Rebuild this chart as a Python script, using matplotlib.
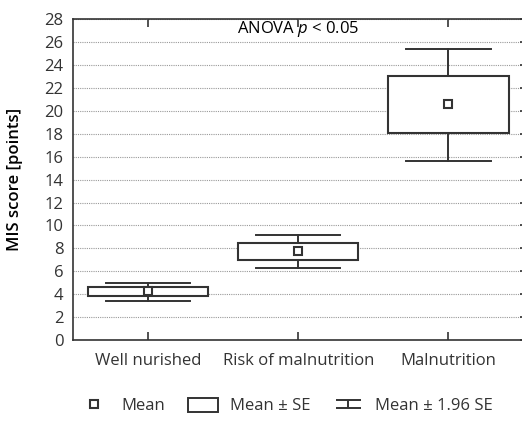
import matplotlib
matplotlib.use('Agg')
from matplotlib import pyplot as plt
from matplotlib.lines import Line2D
from matplotlib.patches import Rectangle
from matplotlib.path import Path

groups = ['Well nurished', 'Risk of malnutrition', 'Malnutrition']
means = [4.26, 7.73, 20.59]
se_low = [3.85, 7.0, 18.05]
se_high = [4.67, 8.46, 23.07]
ci_low = [3.41, 6.33, 15.66]
ci_high = [4.99, 9.19, 25.37]

plt.rcParams['font.family'] = ['Open Sans', 'DejaVu Sans']
plt.rcParams['mathtext.fontset'] = 'custom'
plt.rcParams['mathtext.it'] = 'Open Sans:italic'
dark = '#333333'

fig = plt.figure(figsize=(5.22, 4.21), dpi=100)
ax = fig.add_axes([0.14, 0.192, 0.863, 0.763])

stats = []
for i in range(len(groups)):
    stats.append({'med': means[i], 'q1': se_low[i], 'q3': se_high[i],
                  'whislo': ci_low[i], 'whishi': ci_high[i], 'mean': means[i],
                  'fliers': []})

ax.bxp(stats, positions=range(len(groups)), widths=0.8, showmeans=True,
       patch_artist=True, showfliers=False,
       boxprops=dict(facecolor='white', edgecolor=dark, linewidth=1.5),
       whiskerprops=dict(color=dark, linewidth=1.4),
       capprops=dict(color=dark, linewidth=1.4),
       capwidths=0.56,
       medianprops=dict(linewidth=0),
       meanprops=dict(marker='s', markersize=6, markerfacecolor='white',
                      markeredgecolor=dark, markeredgewidth=1.5))

ax.set_xlim(-0.5, 2.5)
ax.set_ylim(0, 28)
ax.set_yticks(range(0, 29, 2))
ax.set_xticks(range(len(groups)))
ax.set_xticklabels(groups)
ax.grid(axis='y', linestyle=(0, (1, 1)), color='#999999', linewidth=0.8)
ax.set_axisbelow(True)

for s in ['left', 'top', 'bottom']:
    ax.spines[s].set_color(dark)
    ax.spines[s].set_linewidth(1.2)
ax.spines['right'].set_visible(False)

ax.tick_params(axis='x', direction='in', length=6, width=1.2, color=dark,
               top=True, labelsize=12, labelcolor=dark, pad=9)
ax.tick_params(axis='y', which='both', left=False, right=True, direction='in',
               length=3, width=1.2, color=dark, labelsize=12, labelcolor=dark, pad=7)

ax.set_ylabel('MIS score [points]', fontsize=12, color='black', fontweight='semibold', labelpad=15)
ax.text(1, 27.1, 'ANOVA $p$ < 0.05', ha='center', va='center', fontsize=12, color='black')

cap_marker = Path([(-1, 0.3), (1, 0.3), (0, 0.3), (0, -0.3), (-1, -0.3), (1, -0.3)],
                  [Path.MOVETO, Path.LINETO, Path.MOVETO, Path.LINETO, Path.MOVETO, Path.LINETO])
handles = [
    Line2D([], [], linestyle='none', marker='s', markersize=6, markerfacecolor='white',
           markeredgecolor=dark, markeredgewidth=1.5),
    Rectangle((0, 0), 1, 1, facecolor='white', edgecolor=dark, linewidth=1.4),
    Line2D([], [], linestyle='none', marker=cap_marker, markersize=18,
           markeredgecolor=dark, markeredgewidth=1.4, fillstyle='none'),
]
fig.legend(handles, ['Mean', 'Mean ± SE', 'Mean ± 1.96 SE'], loc='center',
           bbox_to_anchor=(0.548, 1 - 406 / 421), ncol=3, frameon=False, fontsize=12,
           labelcolor=dark, handlelength=1.8, handleheight=0.9,
           columnspacing=1.4, handletextpad=0.7)

fig.savefig('out.png', dpi=100)
